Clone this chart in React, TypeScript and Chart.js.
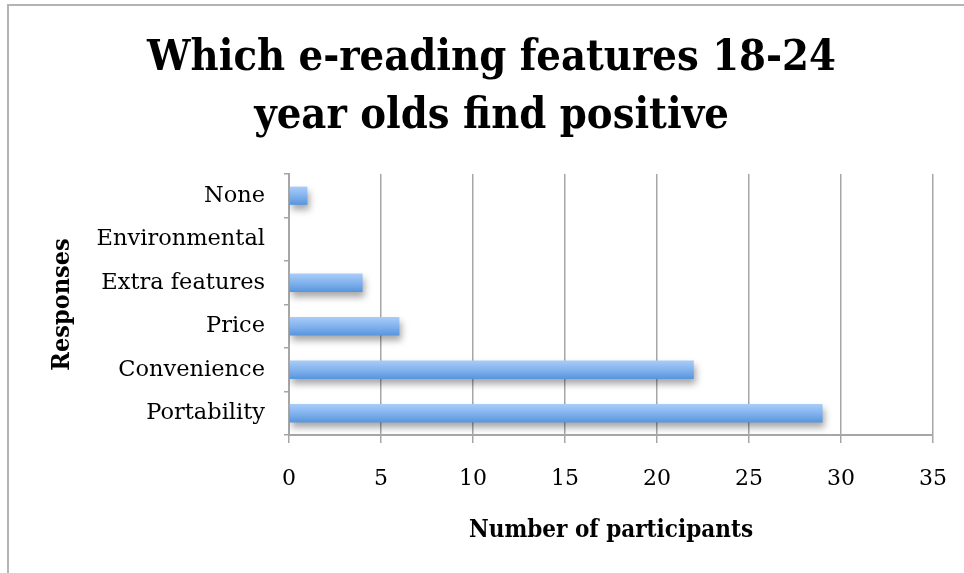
import React, { useEffect, useRef } from "react";
import { Chart, registerables } from "chart.js";

Chart.register(...registerables);

const categories = ["Portability", "Convenience", "Price", "Extra features", "Environmental", "None"];
const participants = [29, 22, 6, 4, 0, 1];
const xTickValues = [0, 5, 10, 15, 20, 25, 30, 35];
const titleLines = ["Which e-reading features 18-24", "year olds find positive"];
const xTitle = "Number of participants";
const yTitle = "Responses";

const SERIF = "'DejaVu Serif', 'Liberation Serif', serif";
const SERIF_BOLD = "'DejaVu Serif Condensed', 'Liberation Serif', serif";
const GRID = "#a6a6a6";

const framePlugin = {
  id: "frame",
  beforeDraw(chart: any) {
    const ctx = chart.ctx;
    ctx.save();
    ctx.fillStyle = "#ffffff";
    ctx.fillRect(0, 0, chart.width, chart.height);
    ctx.strokeStyle = "#b4b4b4";
    ctx.lineWidth = 2;
    ctx.beginPath();
    ctx.moveTo(8, chart.height);
    ctx.lineTo(8, 5);
    ctx.lineTo(chart.width, 5);
    ctx.stroke();
    ctx.restore();
  },
};

const shadowPlugin = {
  id: "barShadow",
  beforeDatasetsDraw(chart: any) {
    const ctx = chart.ctx;
    ctx.save();
    ctx.shadowColor = "rgba(0,0,0,0.35)";
    ctx.shadowBlur = 7;
    ctx.shadowOffsetX = 2;
    ctx.shadowOffsetY = 5;
  },
  afterDatasetsDraw(chart: any) {
    chart.ctx.restore();
  },
};

export default function App() {
  const ref = useRef<HTMLCanvasElement | null>(null);

  useEffect(() => {
    if (!ref.current) return;
    const barPct = 0.42;
    const chart = new Chart(ref.current, {
      type: "bar",
      data: {
        labels: categories,
        datasets: [
          {
            data: participants,
            categoryPercentage: 1,
            barPercentage: barPct,
            borderWidth: 0,
            backgroundColor: (c: any) => {
              const chartRef = c.chart;
              const ys = chartRef.scales && chartRef.scales.y;
              if (!ys || c.dataIndex === undefined) return "#7fb0ea";
              const center = ys.getPixelForValue(c.dataIndex);
              const band = Math.abs(ys.getPixelForValue(1) - ys.getPixelForValue(0));
              const half = (band * barPct) / 2;
              if (!isFinite(center) || !isFinite(half) || half <= 0) return "#7fb0ea";
              const g = chartRef.ctx.createLinearGradient(0, center - half, 0, center + half);
              g.addColorStop(0, "#a9ccf8");
              g.addColorStop(0.5, "#82b3ee");
              g.addColorStop(1, "#5895dc");
              return g;
            },
          },
        ],
      },
      options: {
        indexAxis: "y",
        responsive: false,
        animation: false,
        layout: { padding: { left: 50, right: 31, top: 0, bottom: 20 } },
        plugins: {
          legend: { display: false },
          tooltip: { enabled: false },
          title: {
            display: true,
            text: titleLines,
            color: "#000000",
            font: { family: SERIF_BOLD, size: 43, weight: "bold", lineHeight: 58 / 43 },
            padding: { top: 30, bottom: 28 },
          },
        },
        scales: {
          x: {
            type: "linear",
            min: 0,
            max: 35,
            afterBuildTicks: (s: any) => {
              s.ticks = xTickValues.map((v) => ({ value: v }));
            },
            afterFit: (s: any) => {
              s.height = 573 - 20 - 435;
              s.paddingLeft = 0;
              s.paddingRight = 0;
            },
            grid: { color: GRID, lineWidth: 1.5, tickLength: 8, drawOnChartArea: true },
            border: { display: true, color: GRID, width: 2 },
            ticks: {
              color: "#000000",
              padding: 23,
              font: { family: SERIF, size: 22 },
            },
            title: {
              display: true,
              text: xTitle,
              color: "#000000",
              font: { family: SERIF_BOLD, size: 24, weight: "bold", lineHeight: 1.2 },
              padding: { top: 0, bottom: 8 },
            },
          },
          y: {
            type: "category",
            reverse: true,
            offset: true,
            afterFit: (s: any) => {
              s.width = 289 - 50;
              s.paddingTop = 0;
              s.paddingBottom = 0;
            },
            grid: { offset: true, drawOnChartArea: false, color: GRID, lineWidth: 1.5, tickLength: 5 },
            border: { display: true, color: GRID, width: 2 },
            ticks: {
              color: "#000000",
              padding: 19,
              font: { family: SERIF, size: 22.5 },
            },
            title: {
              display: true,
              text: yTitle,
              color: "#000000",
              font: { family: SERIF_BOLD, size: 25, weight: "bold", lineHeight: 1.0 },
              padding: { top: 0, bottom: 0 },
            },
          },
        },
      },
      plugins: [framePlugin, shadowPlugin],
    } as any);
    return () => chart.destroy();
  }, []);

  return (
    <div style={{ position: "fixed", left: 0, top: 0, width: 964, height: 573, background: "#fff" }}>
      <canvas ref={ref} width={964} height={573} style={{ display: "block", width: 964, height: 573 }} />
    </div>
  );
}
